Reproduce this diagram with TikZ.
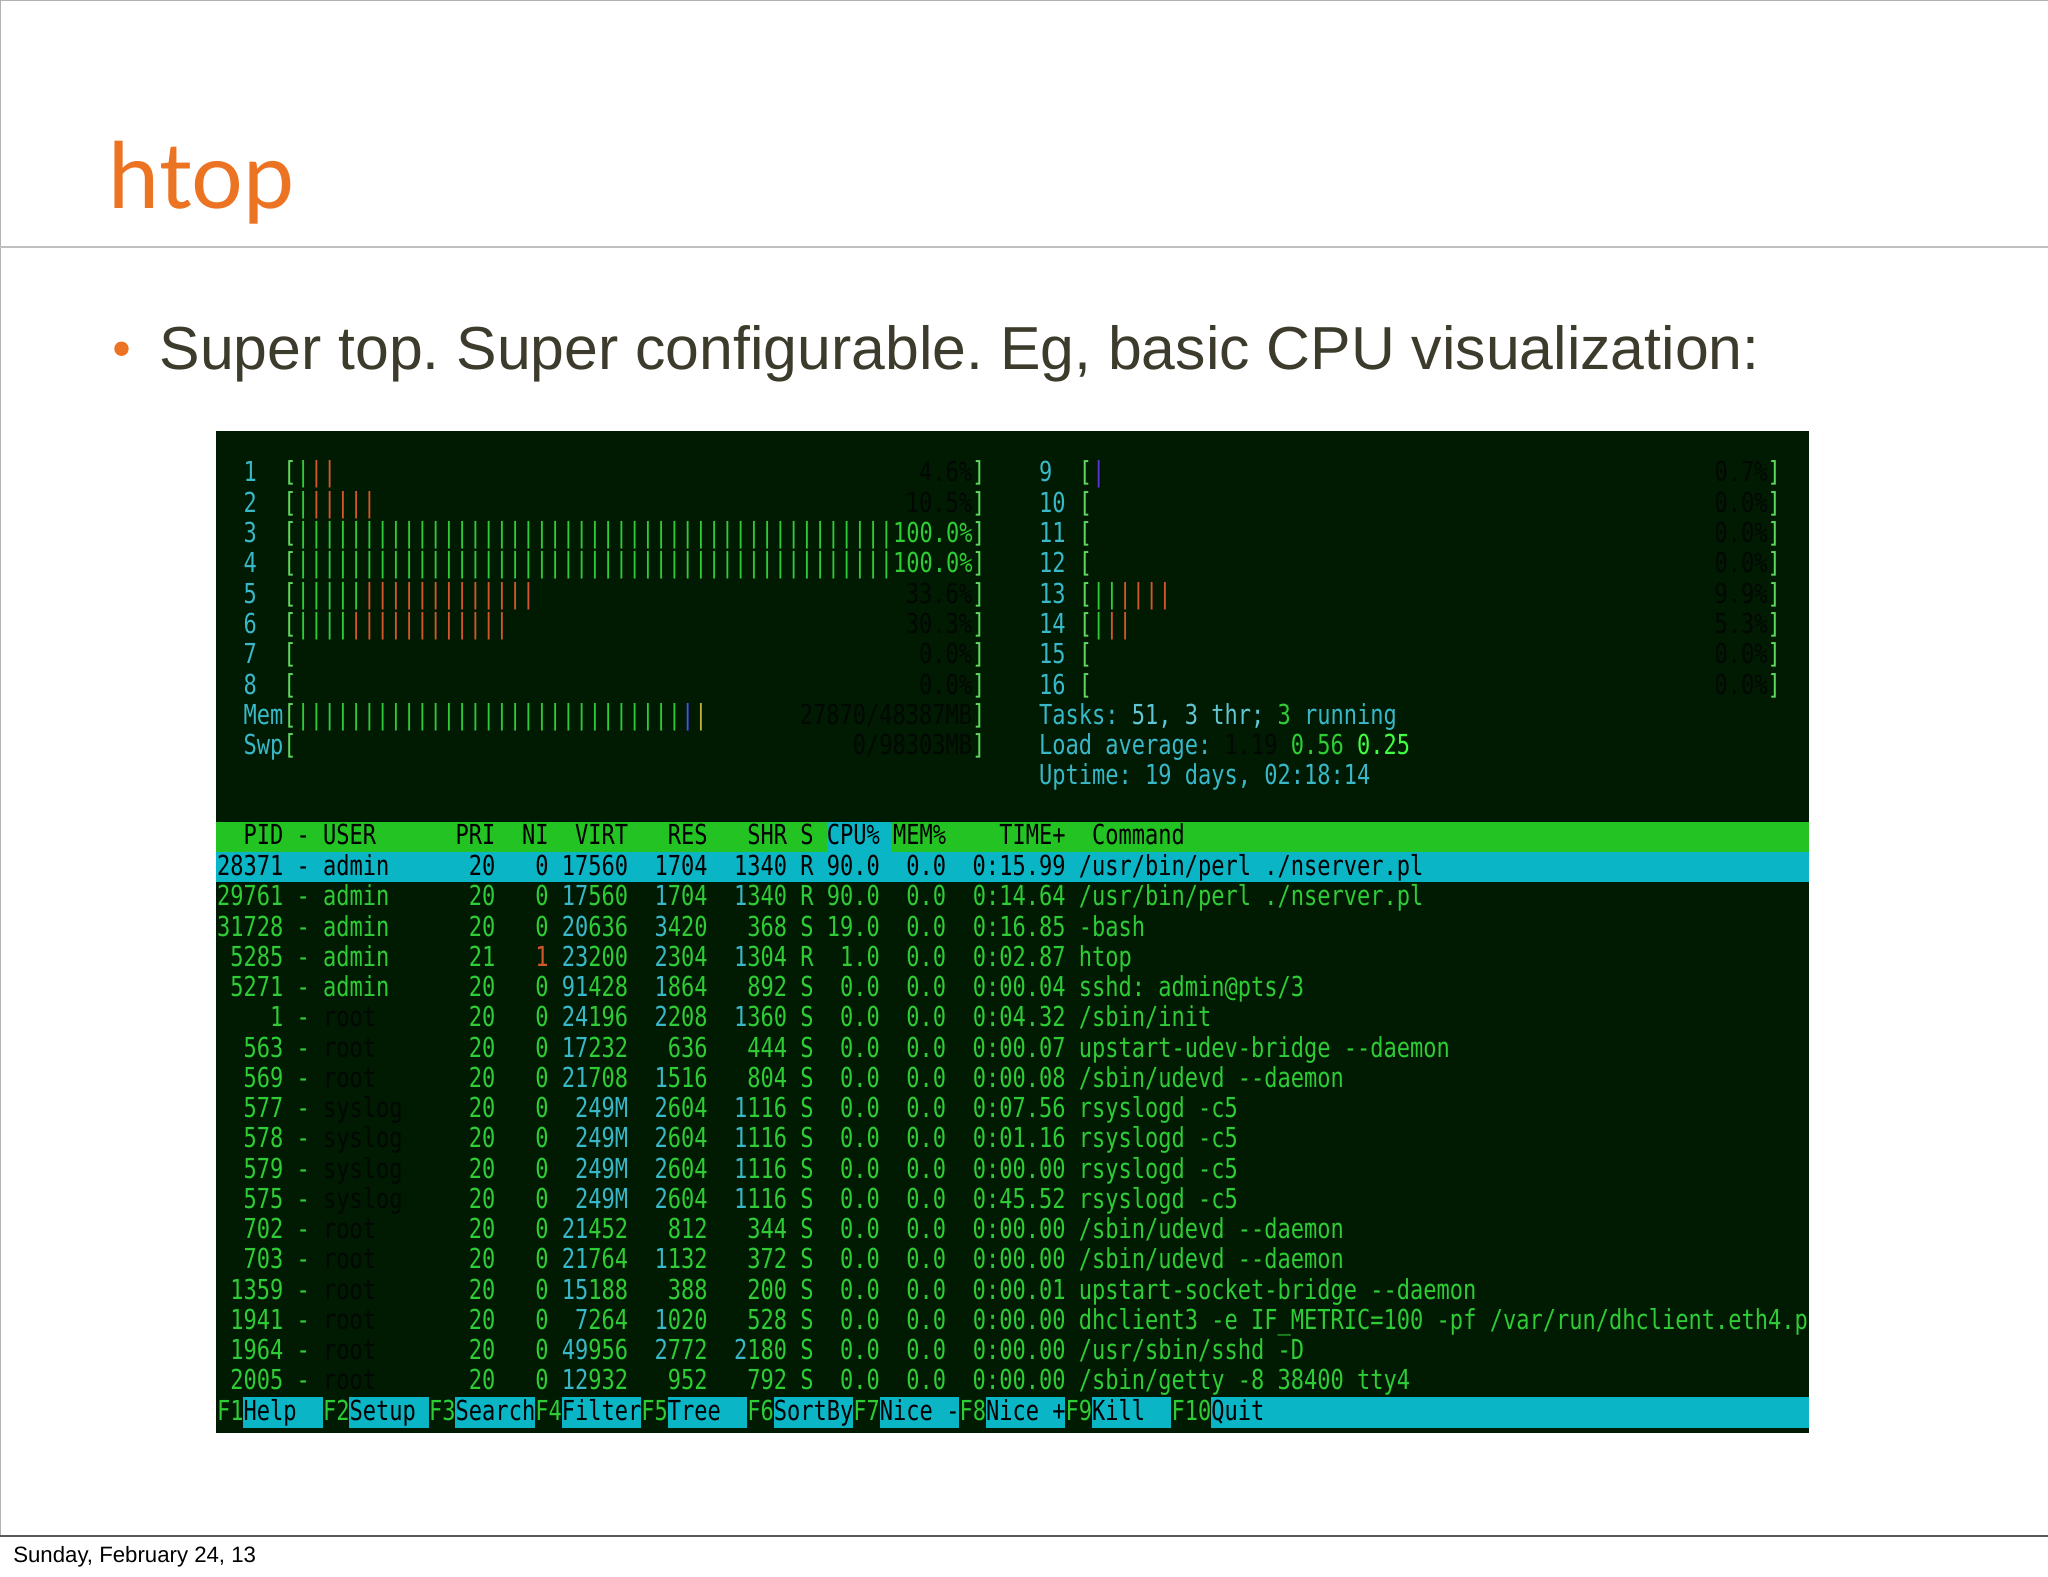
\documentclass[tikz,border=0pt]{standalone}
\usepackage{fontspec}
\setmainfont{Liberation Sans}
\newfontfamily\termfont{DejaVu Sans Mono}
\newfontfamily\titlefont{Lato}
\definecolor{tbg}{HTML}{011A02}
\definecolor{tgreen}{HTML}{2ECC35}
\definecolor{tbr}{HTML}{5FD85F}
\definecolor{tcyan}{HTML}{38B8C8}
\definecolor{tor}{HTML}{D2572A}
\definecolor{tdark}{HTML}{020802}
\definecolor{hbar}{HTML}{22C322}
\definecolor{selc}{HTML}{0AB5C5}
\definecolor{orng}{HTML}{EC7322}
\definecolor{btxt}{HTML}{3C3B2C}
\newcommand\G[1]{\textcolor{tgreen}{#1}}
\newcommand\C[1]{\textcolor{tcyan}{#1}}
\newcommand\K[1]{\textcolor{tdark}{#1}}
\newcommand\OR[1]{\textcolor{tor}{#1}}
\newcommand\LB[1]{\textcolor{tbr}{#1}}
\newcommand\nb[1]{\foreach\i in {1,...,#1}{|}}
\frenchspacing
\tikzset{
 term/.style={anchor=base west, inner sep=0pt, text=tgreen, font=\termfont\fontsize{16.86}{18}\selectfont, yscale=1.25, transform shape},
 termr/.style={term, anchor=base east},
}
\begin{document}
\begin{tikzpicture}[x=1pt,y=1pt]
\useasboundingbox (0,0) rectangle (1568,-1206.7);
\fill[white] (0,0) rectangle (1568,-1206.7);
\draw[gray!60, line width=0.8pt] (0,0) rectangle (1568,-1176);
\draw[gray!50, line width=1.5pt] (0,-189) -- (1568,-189);
\draw[gray!70!black, line width=0.8pt] (0,-1176) -- (1568,-1176);
\node[anchor=base west, inner sep=0, text=orng, font=\titlefont\fontsize{70}{80}\selectfont] (title) at (83,-160) {htop};
\fill[orng] (93,-267) circle (5.5);
\node[anchor=base west, inner sep=0, text=btxt, font=\fontsize{46.5}{52}\selectfont] (bullet) at (122,-283) {Super top. Super configurable. Eg, basic CPU visualization:};
\node[anchor=base west, inner sep=0, font=\fontsize{17}{20}\selectfont] (foot) at (10,-1196) {Sunday, February 24, 13};
% terminal
\fill[tbg] (165,-330) rectangle (1385,-1097);
% left meters (col 2 -> x=186.3), right end x=754.7
\node[term] (m1) at (186.3,-369) {\C{1~~}\LB{[}\G{|}\OR{||}};
\node[term] (m2) at (186.3,-392.2) {\C{2~~}\LB{[}\G{|}\OR{|||||}};
\node[term] (m3) at (186.3,-415.4) {\C{3~~}\LB{[}\G{\nb{45}100.0\%}};
\node[term] (m4) at (186.3,-438.6) {\C{4~~}\LB{[}\G{\nb{45}100.0\%}};
\node[term] (m5) at (186.3,-461.8) {\C{5~~}\LB{[}\G{|||||}\OR{\nb{13}}};
\node[term] (m6) at (186.3,-485) {\C{6~~}\LB{[}\G{||||}\OR{\nb{12}}};
\node[term] (m7) at (186.3,-508.2) {\C{7~~}\LB{[}};
\node[term] (m8) at (186.3,-531.4) {\C{8~~}\LB{[}};
\node[term] (mm) at (186.3,-554.6) {\C{Mem}\LB{[}\G{\nb{29}}\textcolor{blue!70!white}{|}\textcolor{yellow!70!black}{|}};
\node[term] (ms) at (186.3,-577.8) {\C{Swp}\LB{[}};
\node[termr] (p1) at (754.7,-369) {\K{4.6\%}\LB{]}};
\node[termr] (p2) at (754.7,-392.2) {\K{10.5\%}\LB{]}};
\node[termr] (p3) at (754.7,-415.4) {\LB{]}};
\node[termr] (p4) at (754.7,-438.6) {\LB{]}};
\node[termr] (p5) at (754.7,-461.8) {\K{33.6\%}\LB{]}};
\node[termr] (p6) at (754.7,-485) {\K{30.3\%}\LB{]}};
\node[termr] (p7) at (754.7,-508.2) {\K{0.0\%}\LB{]}};
\node[termr] (p8) at (754.7,-531.4) {\K{0.0\%}\LB{]}};
\node[termr] (pm) at (754.7,-554.6) {\K{27870/48387MB}\LB{]}};
\node[termr] (ps) at (754.7,-577.8) {\K{0/98303MB}\LB{]}};
% right meters (col 62 -> x=795.3), right end x=1363.7
\node[term] (n9) at (795.3,-369) {\C{9~~}\LB{[}\textcolor{blue!60!violet!80!white}{|}};
\node[term] (n10) at (795.3,-392.2) {\C{10~}\LB{[}};
\node[term] (n11) at (795.3,-415.4) {\C{11~}\LB{[}};
\node[term] (n12) at (795.3,-438.6) {\C{12~}\LB{[}};
\node[term] (n13) at (795.3,-461.8) {\C{13~}\LB{[}\G{||}\OR{||||}};
\node[term] (n14) at (795.3,-485) {\C{14~}\LB{[}\G{|}\OR{||}};
\node[term] (n15) at (795.3,-508.2) {\C{15~}\LB{[}};
\node[term] (n16) at (795.3,-531.4) {\C{16~}\LB{[}};
\node[termr] (q9) at (1363.7,-369) {\K{0.7\%}\LB{]}};
\node[termr] (q10) at (1363.7,-392.2) {\K{0.0\%}\LB{]}};
\node[termr] (q11) at (1363.7,-415.4) {\K{0.0\%}\LB{]}};
\node[termr] (q12) at (1363.7,-438.6) {\K{0.0\%}\LB{]}};
\node[termr] (q13) at (1363.7,-461.8) {\K{9.9\%}\LB{]}};
\node[termr] (q14) at (1363.7,-485) {\K{5.3\%}\LB{]}};
\node[termr] (q15) at (1363.7,-508.2) {\K{0.0\%}\LB{]}};
\node[termr] (q16) at (1363.7,-531.4) {\K{0.0\%}\LB{]}};
\node[term] (tasks) at (795.3,-554.6) {\C{Tasks:~}\textcolor{tcyan!80!white}{51,~3~thr;~}\G{3}\C{~running}};
\node[term] (load) at (795.3,-577.8) {\C{Load~average:~}\K{1.19~}\G{0.56~}\textcolor{green!75!white}{0.25}};
\node[term] (upt) at (795.3,-601) {\C{Uptime:~19~days,~02:18:14}};
% header
\fill[hbar] (165,-629) rectangle (1385,-652);
\fill[selc] (632.9,-629) rectangle (683,-652);
\node[term, text=black] (hdr) at (166,-646.5) {~~PID~-~USER~~~~~~PRI~~NI~~VIRT~~~RES~~~SHR~S~CPU\%~MEM\%~~~~TIME+~~Command};
% selected row
\fill[selc] (165,-652.5) rectangle (1385,-675.5);
\node[term, text=black] (r1) at (166,-670.5) {28371~-~admin~~~~~~20~~~0~17560~~1704~~1340~R~90.0~~0.0~~0:15.99~/usr/bin/perl~./nserver.pl};
\node[term] (r2) at (166,-693.6) {29761~-~admin~~~~~~20~~~0~\C{17}560~~\C{1}704~~\C{1}340~R~90.0~~0.0~~0:14.64~/usr/bin/perl~./nserver.pl};
\node[term] (r3) at (166,-716.8) {31728~-~admin~~~~~~20~~~0~\C{20}636~~\C{3}420~~~368~S~19.0~~0.0~~0:16.85~-bash};
\node[term] (r4) at (166,-739.9) {~5285~-~admin~~~~~~21~~~\OR{1}~\C{23}200~~\C{2}304~~\C{1}304~R~~1.0~~0.0~~0:02.87~htop};
\node[term] (r5) at (166,-763.1) {~5271~-~admin~~~~~~20~~~0~\C{91}428~~\C{1}864~~~892~S~~0.0~~0.0~~0:00.04~sshd:~admin@pts/3};
\node[term] (r6) at (166,-786.2) {~~~~1~-~\K{root}~~~~~~~20~~~0~\C{24}196~~\C{2}208~~\C{1}360~S~~0.0~~0.0~~0:04.32~/sbin/init};
\node[term] (r7) at (166,-809.4) {~~563~-~\K{root}~~~~~~~20~~~0~\C{17}232~~~636~~~444~S~~0.0~~0.0~~0:00.07~upstart-udev-bridge~-{}-daemon};
\node[term] (r8) at (166,-832.5) {~~569~-~\K{root}~~~~~~~20~~~0~\C{21}708~~\C{1}516~~~804~S~~0.0~~0.0~~0:00.08~/sbin/udevd~-{}-daemon};
\node[term] (r9) at (166,-855.7) {~~577~-~\K{syslog}~~~~~20~~~0~~\C{249M}~~\C{2}604~~\C{1}116~S~~0.0~~0.0~~0:07.56~rsyslogd~-c5};
\node[term] (r10) at (166,-878.8) {~~578~-~\K{syslog}~~~~~20~~~0~~\C{249M}~~\C{2}604~~\C{1}116~S~~0.0~~0.0~~0:01.16~rsyslogd~-c5};
\node[term] (r11) at (166,-902) {~~579~-~\K{syslog}~~~~~20~~~0~~\C{249M}~~\C{2}604~~\C{1}116~S~~0.0~~0.0~~0:00.00~rsyslogd~-c5};
\node[term] (r12) at (166,-925.1) {~~575~-~\K{syslog}~~~~~20~~~0~~\C{249M}~~\C{2}604~~\C{1}116~S~~0.0~~0.0~~0:45.52~rsyslogd~-c5};
\node[term] (r13) at (166,-948.3) {~~702~-~\K{root}~~~~~~~20~~~0~\C{21}452~~~812~~~344~S~~0.0~~0.0~~0:00.00~/sbin/udevd~-{}-daemon};
\node[term] (r14) at (166,-971.4) {~~703~-~\K{root}~~~~~~~20~~~0~\C{21}764~~\C{1}132~~~372~S~~0.0~~0.0~~0:00.00~/sbin/udevd~-{}-daemon};
\node[term] (r15) at (166,-994.6) {~1359~-~\K{root}~~~~~~~20~~~0~\C{15}188~~~388~~~200~S~~0.0~~0.0~~0:00.01~upstart-socket-bridge~-{}-daemon};
\node[term] (r16) at (166,-1017.7) {~1941~-~\K{root}~~~~~~~20~~~0~~\C{7}264~~\C{1}020~~~528~S~~0.0~~0.0~~0:00.00~dhclient3~-e~IF\_METRIC=100~-pf~/var/run/dhclient.eth4.p};
\node[term] (r17) at (166,-1040.9) {~1964~-~\K{root}~~~~~~~20~~~0~\C{49}956~~\C{2}772~~\C{2}180~S~~0.0~~0.0~~0:00.00~/usr/sbin/sshd~-D};
\node[term] (r18) at (166,-1064) {~2005~-~\K{root}~~~~~~~20~~~0~\C{12}932~~~952~~~792~S~~0.0~~0.0~~0:00.00~/sbin/getty~-8~38400~tty4};
% function key bar
\foreach \a/\b in {2/8,10/16,18/24,26/32,34/40,42/48,50/56,58/64,66/72}
  \fill[selc] (166+10.15*\a,-1069.5) rectangle (166+10.15*\b,-1093);
\fill[selc] (166+10.15*75,-1069.5) rectangle (1385,-1093);
\node[term, text=black] (fkeys) at (166,-1087.2) {\G{F1}Help~~\G{F2}Setup~\G{F3}Search\G{F4}Filter\G{F5}Tree~~\G{F6}SortBy\G{F7}Nice~-\G{F8}Nice~+\G{F9}Kill~~\G{F10}Quit};
\end{tikzpicture}
\end{document}
